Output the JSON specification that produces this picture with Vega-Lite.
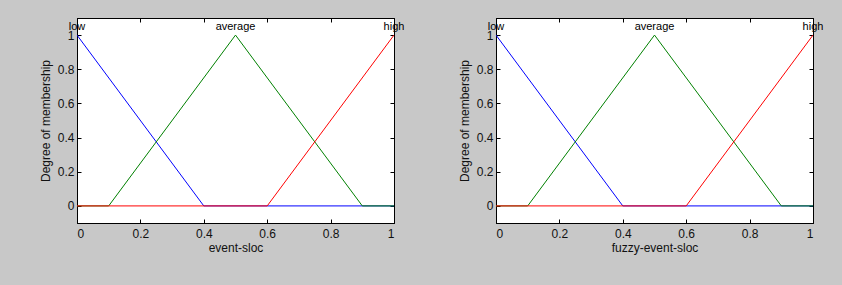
{
  "$schema": "https://vega.github.io/schema/vega-lite/v6.json",
  "background": "#c8c8c8",
  "padding": {"left": 38, "top": 17, "right": 31, "bottom": 33},
  "spacing": 52,
  "config": {
    "font": "Liberation Sans",
    "view": {"fill": "white", "stroke": "black", "strokeWidth": 1},
    "axis": {
      "domainColor": "black",
      "tickColor": "black",
      "labelColor": "#111111",
      "titleColor": "#111111",
      "labelFont": "Liberation Sans",
      "titleFont": "Liberation Sans",
      "labelFontSize": 12,
      "titleFontSize": 12,
      "titleFontWeight": "normal",
      "grid": false,
      "tickSize": -4
    }
  },
  "datasets": {
    "mf": [
      {"mf": "low", "x": 0, "y": 1},
      {"mf": "low", "x": 0.4, "y": 0},
      {"mf": "low", "x": 1, "y": 0},
      {"mf": "average", "x": 0, "y": 0},
      {"mf": "average", "x": 0.1, "y": 0},
      {"mf": "average", "x": 0.5, "y": 1},
      {"mf": "average", "x": 0.9, "y": 0},
      {"mf": "average", "x": 1, "y": 0},
      {"mf": "high", "x": 0, "y": 0},
      {"mf": "high", "x": 0.6, "y": 0},
      {"mf": "high", "x": 1, "y": 1}
    ],
    "labels": [
      {"mf": "low", "x": 0, "y": 1},
      {"mf": "average", "x": 0.5, "y": 1},
      {"mf": "high", "x": 1, "y": 1}
    ]
  },
  "hconcat": [
    {
      "width": 317,
      "height": 205,
      "layer": [
        {
          "data": {"name": "mf"},
          "mark": {"type": "line", "strokeWidth": 1, "clip": true},
          "encoding": {
            "x": {"field": "x", "type": "quantitative", "scale": {"domain": [0, 1], "nice": false, "zero": false},
                  "axis": {"orient": "bottom", "values": [0, 0.2, 0.4, 0.6, 0.8, 1], "format": "~g", "title": "event-sloc", "labelPadding": 9, "titlePadding": 3}},
            "y": {"field": "y", "type": "quantitative", "scale": {"domain": [-0.1, 1.1], "nice": false, "zero": false},
                  "axis": {"orient": "left", "values": [0, 0.2, 0.4, 0.6, 0.8, 1], "format": "~g", "title": "Degree of membership", "labelPadding": 7, "titlePadding": 5}},
            "color": {"field": "mf", "type": "nominal", "scale": {"domain": ["low", "average", "high"], "range": ["#0000ff", "#008000", "#ff0000"]}, "legend": null}
          }
        },
        {
          "data": {"name": "labels"},
          "mark": {"type": "text", "baseline": "bottom", "align": "center", "dy": -3, "fontSize": 11, "color": "black", "font": "Liberation Sans"},
          "encoding": {
            "x": {"field": "x", "type": "quantitative", "axis": {"orient": "top", "values": [0, 0.2, 0.4, 0.6, 0.8, 1], "labels": false, "title": null}},
            "y": {"field": "y", "type": "quantitative", "axis": {"orient": "right", "values": [0, 0.2, 0.4, 0.6, 0.8, 1], "labels": false, "title": null}},
            "text": {"field": "mf"}
          }
        }
      ],
      "resolve": {"axis": {"x": "independent", "y": "independent"}}
    },
    {
      "width": 317,
      "height": 205,
      "layer": [
        {
          "data": {"name": "mf"},
          "mark": {"type": "line", "strokeWidth": 1, "clip": true},
          "encoding": {
            "x": {"field": "x", "type": "quantitative", "scale": {"domain": [0, 1], "nice": false, "zero": false},
                  "axis": {"orient": "bottom", "values": [0, 0.2, 0.4, 0.6, 0.8, 1], "format": "~g", "title": "fuzzy-event-sloc", "labelPadding": 9, "titlePadding": 3}},
            "y": {"field": "y", "type": "quantitative", "scale": {"domain": [-0.1, 1.1], "nice": false, "zero": false},
                  "axis": {"orient": "left", "values": [0, 0.2, 0.4, 0.6, 0.8, 1], "format": "~g", "title": "Degree of membership", "labelPadding": 7, "titlePadding": 5}},
            "color": {"field": "mf", "type": "nominal", "scale": {"domain": ["low", "average", "high"], "range": ["#0000ff", "#008000", "#ff0000"]}, "legend": null}
          }
        },
        {
          "data": {"name": "labels"},
          "mark": {"type": "text", "baseline": "bottom", "align": "center", "dy": -3, "fontSize": 11, "color": "black", "font": "Liberation Sans"},
          "encoding": {
            "x": {"field": "x", "type": "quantitative", "axis": {"orient": "top", "values": [0, 0.2, 0.4, 0.6, 0.8, 1], "labels": false, "title": null}},
            "y": {"field": "y", "type": "quantitative", "axis": {"orient": "right", "values": [0, 0.2, 0.4, 0.6, 0.8, 1], "labels": false, "title": null}},
            "text": {"field": "mf"}
          }
        }
      ],
      "resolve": {"axis": {"x": "independent", "y": "independent"}}
    }
  ]
}
